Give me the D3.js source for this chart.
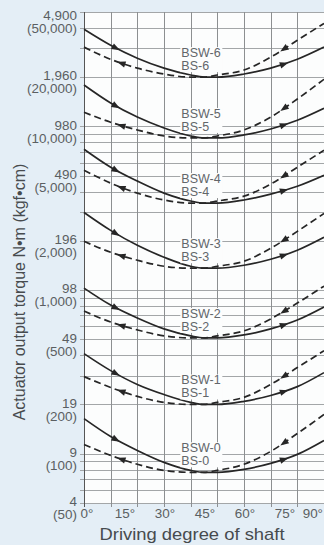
<!DOCTYPE html>
<html><head><meta charset="utf-8">
<script src="https://cdn.jsdelivr.net/npm/d3@7"></script>
<style>
html,body{margin:0;padding:0;background:#e4eef6;}
svg{display:block;}
text{font-family:"Liberation Sans",Arial,sans-serif;}
</style></head><body>
<svg id="chart" width="324" height="545"></svg>
<script>
// ---- data (torque in kgf·cm) ----
const angles = [0, 10, 20, 30, 40, 45, 50, 60, 70, 80, 90];
const models = ["0", "1", "2", "3", "4", "5", "6"];
const bsw0 = [164, 127.5, 104.8, 88.6, 79.1, 77, 77, 80.3, 87.3, 99.1, 120.6];
const bs0  = [114, 97.7, 86.2, 79.1, 77, 77, 79.1, 86.2, 103.3, 132.9, 173.6];
const bsw1 = [409, 322, 265, 230, 206, 200, 200, 209, 227, 257, 313];
const bs1  = [296, 254, 224, 206, 200, 200, 206, 221, 265, 336, 426];
const bsw2 = [1028, 810, 675, 579, 525, 510, 510, 532, 579, 656, 788];
const bs2  = [744, 638, 571, 525, 510, 510, 525, 563, 666, 833, 1057];
const bsw3 = [2981, 2316, 1877, 1587, 1398, 1360, 1360, 1418, 1542, 1750, 2100];
const bs3  = [1986, 1702, 1522, 1398, 1360, 1360, 1398, 1500, 1800, 2284, 2939];
const bsw4 = [7250, 5630, 4630, 3910, 3500, 3400, 3400, 3550, 3860, 4310, 5030];
const bs4  = [5400, 4500, 3910, 3550, 3400, 3400, 3500, 3750, 4440, 5630, 7150];
const bsw5 = [17900, 13900, 11400, 9780, 8740, 8500, 8500, 8870, 9640, 10900, 12900];
const bs5  = [12200, 10600, 9510, 8740, 8500, 8500, 8740, 9510, 11400, 14700, 19400];
const bsw6 = [39200, 31300, 26100, 22700, 20600, 20000, 20000, 20900, 22700, 25700, 30500];
const bs6  = [30500, 25700, 22700, 20900, 20000, 20000, 20600, 22100, 26500, 33600, 42600];
const bswSeries = [bsw0, bsw1, bsw2, bsw3, bsw4, bsw5, bsw6];
const bsSeries  = [bs0, bs1, bs2, bs3, bs4, bs5, bs6];
const solidArrowAt = [12, 75];
const dashArrowAt  = [14, 75];

const yTickKgf = [50000, 20000, 10000, 5000, 2000, 1000, 500, 200, 100, 50];
const yTickNm  = ["4,900", "1,960", "980", "490", "196", "98", "49", "19", "9", "4"];
const xTicks   = [0, 15, 30, 45, 60, 75, 90];
const gridX    = [0, 10, 20, 30, 40, 50, 60, 70, 80, 90];
const gridY    = [50, 60, 70, 80, 90, 100, 200, 300, 400, 500, 600, 700, 800, 900,
                  1000, 2000, 3000, 4000, 5000, 6000, 7000, 8000, 9000,
                  10000, 20000, 30000, 40000, 50000];
const xTitle = "Driving degree of shaft";
const yTitle = "Actuator output torque N•m (kgf•cm)";

// ---- drawing ----
const svg = d3.select("#chart");
const x = d3.scaleLinear().domain([0, 90]).range([84, 324]);
const y = d3.scaleLog().domain([50, 50000]).range([503, 12]);
const fmt = d3.format(",");

svg.append("rect").attr("x", x(0)).attr("y", y(50000))
  .attr("width", x(90) - x(0)).attr("height", y(50) - y(50000)).attr("fill", "#fcfdfd");

const grid = svg.append("g");
grid.selectAll("line.h").data(gridY).join("line").attr("class", "h")
  .attr("x1", x(0) - 4).attr("x2", x(90))
  .attr("y1", d => Math.round(y(d)) + 0.5).attr("y2", d => Math.round(y(d)) + 0.5)
  .attr("stroke", "#a3a6a8").attr("stroke-width", 1);
grid.selectAll("line.v").data(gridX).join("line").attr("class", "v")
  .attr("y1", y(50000)).attr("y2", y(50) + 4)
  .attr("x1", d => Math.round(x(d)) + 0.5).attr("x2", d => Math.round(x(d)) + 0.5)
  .attr("stroke", d => d === 0 ? "#555" : "#8c8f91").attr("stroke-width", 1);

// y tick labels
const yl = svg.append("g").attr("fill", "#5b5f62").attr("font-size", 12);
yTickKgf.forEach((k, i) => {
  const cy = Math.max(y(k) - 1, 16);
  yl.append("text").attr("transform", `translate(77,${cy}) scale(1.12,1)`)
    .attr("text-anchor", "end").attr("dominant-baseline", "central").text(yTickNm[i]);
  yl.append("text").attr("transform", `translate(77,${cy + 13}) scale(1.12,1)`)
    .attr("text-anchor", "end").attr("dominant-baseline", "central").text(`(${fmt(k)})`);
});
// x tick labels
const xl = svg.append("g").attr("fill", "#5b5f62").attr("font-size", 12);
xTicks.forEach(t => {
  const last = t === xTicks[xTicks.length - 1];
  xl.append("text")
    .attr("transform", `translate(${last ? x(t) - 1 : x(t) + (t === 0 ? 3 : 1)},518) scale(1.12,1)`)
    .attr("text-anchor", last ? "end" : "middle").text(t + "°");
});

// titles
svg.append("text").attr("transform", "translate(192,540) scale(1.15,1)")
  .attr("text-anchor", "middle").attr("font-size", 16).attr("fill", "#474b4e").text(xTitle);
svg.append("text").attr("transform", "translate(25,292) rotate(-90)")
  .attr("text-anchor", "middle").attr("font-size", 16).attr("fill", "#474b4e").text(yTitle);

// curves
const line = d3.line().x((d, i) => x(angles[i])).y(d => y(d)).curve(d3.curveMonotoneX);
const curves = svg.append("g").attr("fill", "none").attr("stroke", "#262626");

function pointAtX(path, px) {
  const L = path.getTotalLength();
  let lo = 0, hi = L;
  for (let k = 0; k < 40; k++) {
    const mid = (lo + hi) / 2;
    if (path.getPointAtLength(mid).x < px) lo = mid; else hi = mid;
  }
  const p = path.getPointAtLength(lo);
  const a = path.getPointAtLength(Math.max(0, lo - 1.5));
  const b = path.getPointAtLength(Math.min(L, lo + 1.5));
  return { x: p.x, y: p.y, ang: Math.atan2(b.y - a.y, b.x - a.x) * 180 / Math.PI };
}
const arrowG = svg.append("g").attr("fill", "#262626");
function addArrows(path, list, reverse) {
  list.forEach(t => {
    const p = pointAtX(path, x(t));
    arrowG.append("path").attr("d", "M4.5,0L-4,-3.2L-4,3.2Z")
      .attr("transform", `translate(${p.x},${p.y}) rotate(${p.ang + (reverse ? 180 : 0)})`);
  });
}

models.forEach((m, i) => {
  const s = curves.append("path").attr("d", line(bswSeries[i])).attr("stroke-width", 1.7);
  const d = curves.append("path").attr("d", line(bsSeries[i])).attr("stroke-width", 1.7)
    .attr("stroke-dasharray", "7,4");
  addArrows(s.node(), solidArrowAt, false);
  addArrows(d.node(), dashArrowAt, true);
});

// model labels
const lab = svg.append("g");
models.forEach((m, i) => {
  const ym = y(d3.min(bswSeries[i]));
  const g = lab.append("g");
  g.append("rect").attr("x", x(36.5) - 1).attr("y", ym - 30).attr("width", 42).attr("height", 25)
    .attr("fill", "#fcfdfd");
  g.append("text").attr("x", x(36.5)).attr("y", ym - 24).attr("dominant-baseline", "central")
    .attr("font-size", 12.5).attr("fill", "#62666a").text("BSW-" + m);
  g.append("text").attr("x", x(36.5)).attr("y", ym - 11).attr("dominant-baseline", "central")
    .attr("font-size", 12.5).attr("fill", "#62666a").text("BS-" + m);
});
</script>
</body></html>
